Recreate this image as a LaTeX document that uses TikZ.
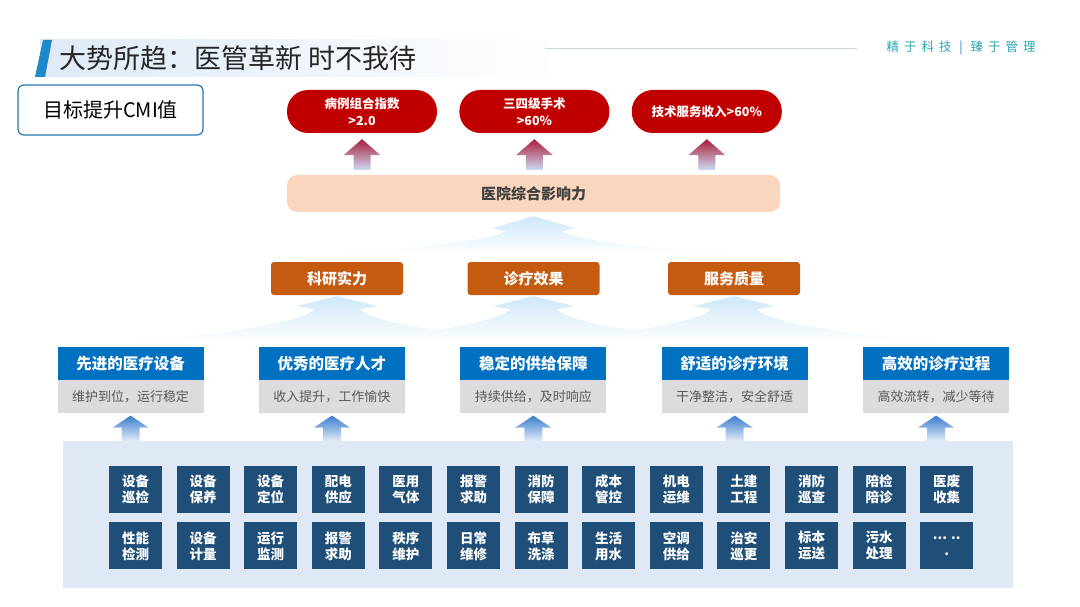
\documentclass[tikz,border=0pt]{standalone}
\usepackage{fontspec}
\setmainfont{Noto Sans CJK SC}
\newfontfamily\slogan{Noto Sans CJK SC}[LetterSpace=40]
\usepackage{tikz}
\usetikzlibrary{positioning, calc}

\definecolor{TitleBlue}{RGB}{30,136,200}
\definecolor{TitleBg}{RGB}{222,234,246}
\definecolor{GoalRed}{RGB}{192,0,0}
\definecolor{Peach}{RGB}{250,214,190}
\definecolor{Rust}{RGB}{197,90,17}
\definecolor{HeadBlue}{RGB}{0,112,192}
\definecolor{SubGray}{RGB}{220,220,220}
\definecolor{Navy}{RGB}{31,78,121}
\definecolor{PanelBlue}{RGB}{222,233,245}
\definecolor{Teal}{RGB}{44,165,176}
\definecolor{SkyBlue}{RGB}{168,212,240}

\begin{document}
\begin{tikzpicture}[
        x=1pt, y=-1pt,
        goalbox/.style={rectangle, rounded corners=6pt, draw=HeadBlue!70!gray, line width=1.2pt, fill=white,
                        minimum width=185pt, minimum height=50pt, font=\fontsize{20}{24}\selectfont},
        redpill/.style={rectangle, rounded corners=21pt, fill=GoalRed, text=white, align=center,
                        minimum width=150pt, minimum height=43pt, font=\fontsize{12.5}{17}\selectfont\bfseries},
        peachbar/.style={rectangle, rounded corners=10pt, fill=Peach, text=black!75, 
                         minimum width=493pt, minimum height=37pt, font=\fontsize{15}{18}\selectfont\bfseries},
        rustbox/.style={rectangle, rounded corners=3pt, fill=Rust, text=white,
                        minimum width=132pt, minimum height=33pt, font=\fontsize{15}{18}\selectfont\bfseries},
        bluehead/.style={rectangle, fill=HeadBlue, text=white, inner sep=0pt,
                         minimum width=146pt, minimum height=33pt, font=\fontsize{15.5}{18}\selectfont\bfseries},
        graysub/.style={rectangle, fill=SubGray, text=black!65, inner sep=0pt,
                        minimum width=146pt, minimum height=33pt, font=\fontsize{13}{16}\selectfont},
        panel/.style={rectangle, fill=PanelBlue, minimum width=950pt, minimum height=147pt},
        cell/.style={rectangle, fill=Navy, text=white, align=center, inner sep=0pt,
                     minimum width=53pt, minimum height=47pt, font=\fontsize{13.5}{16}\selectfont\bfseries},
        redarrow/.style={top color={rgb,255:red,170;green,30;blue,60}, bottom color={rgb,255:red,205;green,220;blue,244}},
        bluearrow/.style={top color={rgb,255:red,60;green,125;blue,205}, bottom color={rgb,255:red,228;green,238;blue,250}},
        tree/.style={top color=SkyBlue!55, middle color=SkyBlue, bottom color=white}
    ]
        \useasboundingbox (0,0) rectangle (1080,607);

        % title band
        \shade[left color=TitleBg, right color=white] (40,40) rectangle (560,77);
        \fill[TitleBlue] (43,40) -- (52,40) -- (45,77) -- (35,77) -- cycle;
        \node[anchor=west, text=black!85, font=\fontsize{27}{30}\selectfont] (title) at (56,58) {大势所趋：医管革新 时不我待};
        \node[anchor=west, text=Teal, font=\fontsize{12.5}{14}\selectfont] (slog) at (883,48)
            {\slogan 精于科技 {\color{TitleBlue}|} 臻于管理};
        \coordinate (lineL) at (545,48);
        \draw[TitleBg!80!gray, line width=0.8pt] (lineL) -- ($(slog.west)+(-26,0)$);

        \node[goalbox] (cmi) at (110.5,110) {目标提升CMI值};

        % goals
        \node[redpill] (cmix) at (362,111.5) {病例组合指数\\>2.0};
        \node[redpill, right=22pt of cmix] (surg) {三四级手术\\>60\%};
        \node[redpill, right=22pt of surg] (tech) {技术服务收入>60\%};
        \node[peachbar] (infl) at (533.5,193.5) {医院综合影响力};

        \foreach \nd in {cmix,surg,tech}
            \shade[redarrow] ($(\nd.south)+(0,6)$) -- ++(18.5,16) -- ++(-10,0) -- ++(0,15)
                -- ++(-17,0) -- ++(0,-15) -- ++(-10,0) -- cycle;

        % pillars
        \node[rustbox] (res) at (337,278.5) {科研实力};
        \node[rustbox] (eff) at (533.5,278.5) {诊疗效果};
        \node[rustbox] (qual) at (734,278.5) {服务质量};

        \shade[tree] ($(infl.south)+(0,4)$) -- ++(42,12) -- ++(-14,3)
            .. controls +(18,11) and +(-92,-2) .. ++(214,23) -- ++(-484,0)
            .. controls +(92,-2) and +(-18,11) .. ++(214,-23) -- ++(-14,-3) -- cycle;
        \foreach \nd in {res,eff,qual}
            \shade[tree] ($(\nd.south)+(0,1)$) -- ++(41,10) -- ++(-18,3)
                .. controls +(13,14) and +(-110,-6) .. ++(207,33) -- ++(-460,0)
                .. controls +(110,-6) and +(-13,14) .. ++(207,-33) -- ++(-18,-3) -- cycle;

        % foundations
        \node[bluehead] (equip) at (130.5,363.5) {先进的医疗设备};
        \node[bluehead, right=55pt of equip] (staff) {优秀的医疗人才};
        \node[bluehead, right=55pt of staff] (supp) {稳定的供给保障};
        \node[bluehead, right=55pt of supp] (envi) {舒适的诊疗环境};
        \node[bluehead, right=55pt of envi] (flow) {高效的诊疗过程};
        \node[graysub, below=0pt of equip] (equipS) {维护到位，运行稳定};
        \node[graysub, below=0pt of staff] (staffS) {收入提升，工作愉快};
        \node[graysub, below=0pt of supp] (suppS) {持续供给，及时响应};
        \node[graysub, below=0pt of envi] (enviS) {干净整洁，安全舒适};
        \node[graysub, below=0pt of flow] (flowS) {高效流转，减少等待};

        \foreach \nd in {equipS,staffS,suppS,enviS,flowS}
            \shade[bluearrow] ($(\nd.south)+(0,2)$) -- ++(18,12) -- ++(-9,0) -- ++(0,14)
                -- ++(-18,0) -- ++(0,-14) -- ++(-9,0) -- cycle;

        % services
        \node[panel] (base) at (538,514.5) {};
        \node[cell] (a1) at (135.5,489.5) {设备\\巡检};
        \node[cell, right=14.2pt of a1] (a2) {设备\\保养};
        \node[cell, right=14.2pt of a2] (a3) {设备\\定位};
        \node[cell, right=14.2pt of a3] (a4) {配电\\供应};
        \node[cell, right=14.2pt of a4] (a5) {医用\\气体};
        \node[cell, right=14.2pt of a5] (a6) {报警\\求助};
        \node[cell, right=14.2pt of a6] (a7) {消防\\保障};
        \node[cell, right=14.2pt of a7] (a8) {成本\\管控};
        \node[cell, right=14.2pt of a8] (a9) {机电\\运维};
        \node[cell, right=14.2pt of a9] (a10) {土建\\工程};
        \node[cell, right=14.2pt of a10] (a11) {消防\\巡查};
        \node[cell, right=14.2pt of a11] (a12) {陪检\\陪诊};
        \node[cell, right=14.2pt of a12] (a13) {医废\\收集};
        \node[cell, below=9pt of a1] (b1) {性能\\检测};
        \node[cell, below=9pt of a2] (b2) {设备\\计量};
        \node[cell, below=9pt of a3] (b3) {运行\\监测};
        \node[cell, below=9pt of a4] (b4) {报警\\求助};
        \node[cell, below=9pt of a5] (b5) {秩序\\维护};
        \node[cell, below=9pt of a6] (b6) {日常\\维修};
        \node[cell, below=9pt of a7] (b7) {布草\\洗涤};
        \node[cell, below=9pt of a8] (b8) {生活\\用水};
        \node[cell, below=9pt of a9] (b9) {空调\\供给};
        \node[cell, below=9pt of a10] (b10) {治安\\巡更};
        \node[cell, below=9pt of a11] (b11) {标本\\运送};
        \node[cell, below=9pt of a12] (b12) {污水\\处理};
        \node[cell, below=9pt of a13] (b13) {... ..\\.};
    \end{tikzpicture}
\end{document}
